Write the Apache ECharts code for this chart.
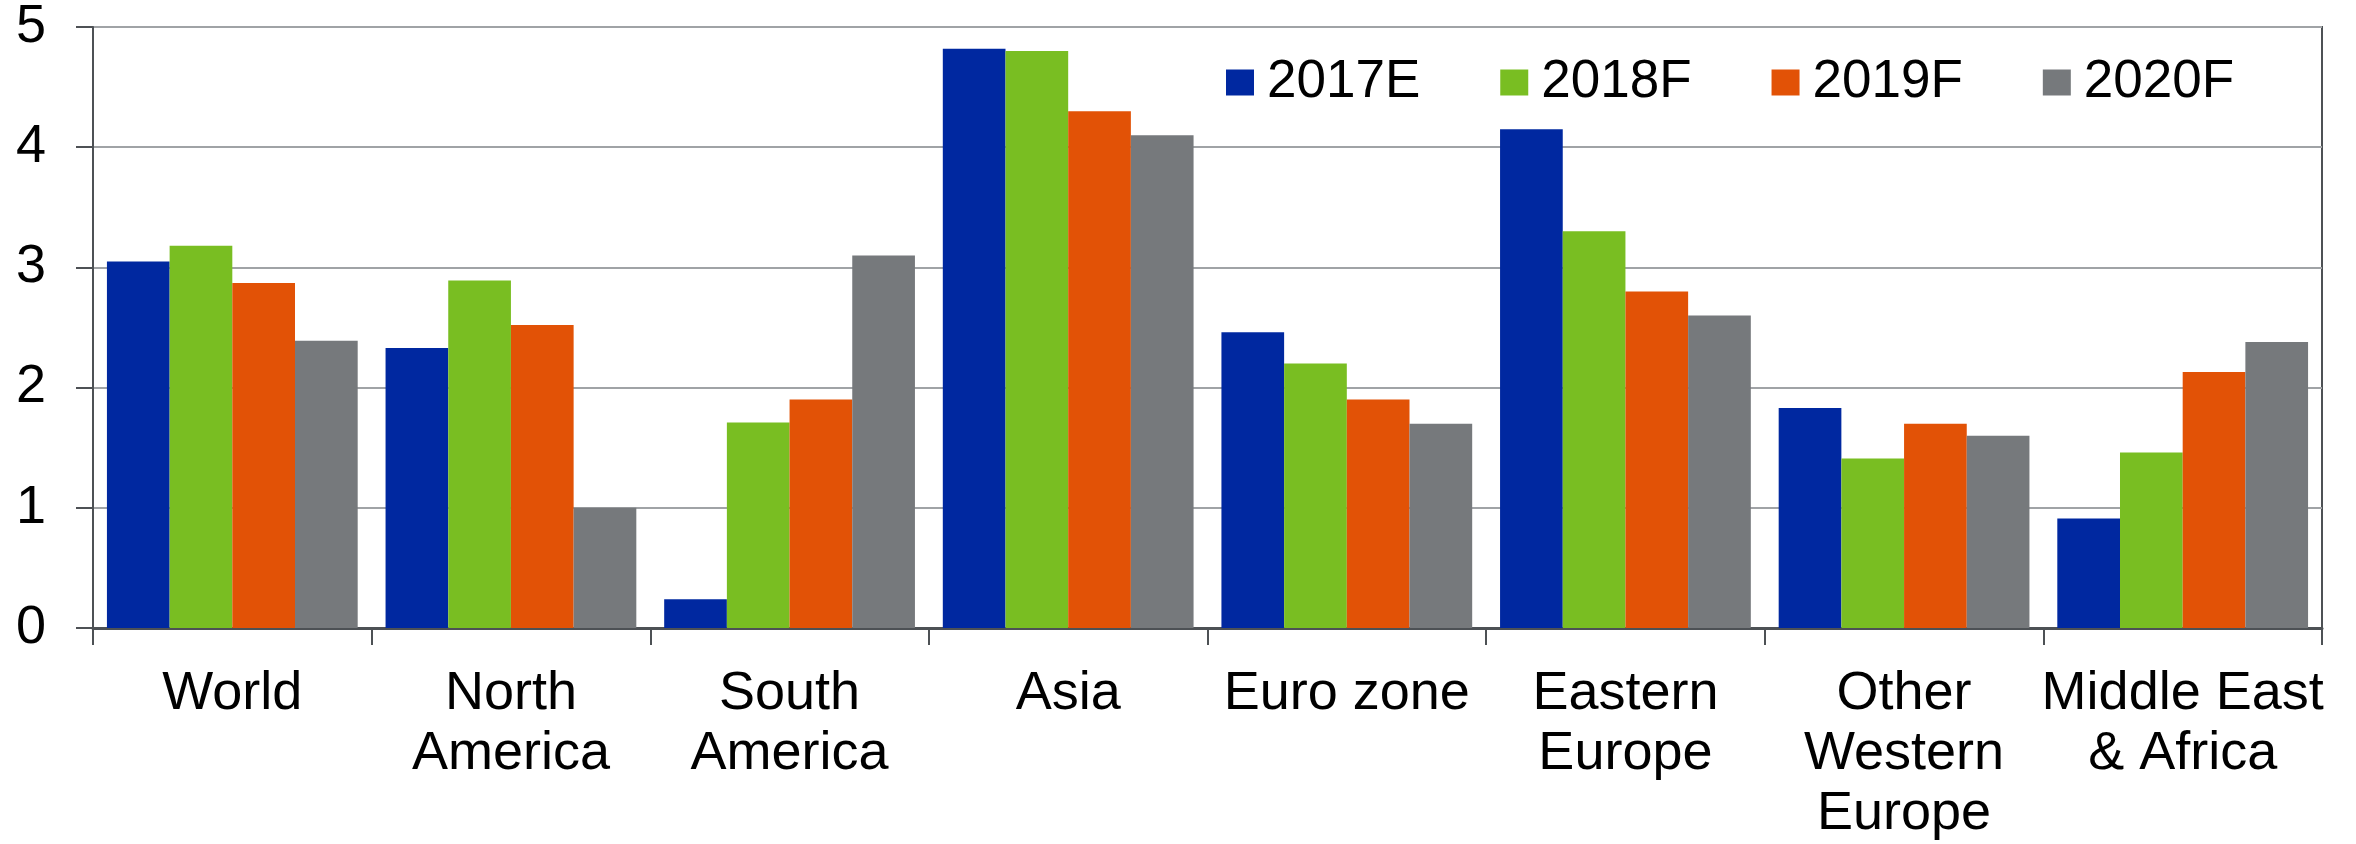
<!DOCTYPE html>
<html>
<head>
<meta charset="utf-8">
<script src="https://cdn.jsdelivr.net/npm/echarts@6/dist/echarts.min.js"></script>
<style>
html,body{margin:0;padding:0;background:#fff;}
#chart{width:2356px;height:844px;}
</style>
</head>
<body>
<div id="chart"></div>
<script>
const categories = ["World", "North\nAmerica", "South\nAmerica", "Asia", "Euro zone", "Eastern\nEurope", "Other\nWestern\nEurope", "Middle East\n& Africa"];
const seriesNames = ["2017E", "2018F", "2019F", "2020F"];
const values2017E = [3.05, 2.33, 0.24, 4.82, 2.46, 4.15, 1.83, 0.91];
const values2018F = [3.18, 2.89, 1.71, 4.80, 2.20, 3.30, 1.41, 1.46];
const values2019F = [2.87, 2.52, 1.90, 4.30, 1.90, 2.80, 1.70, 2.13];
const values2020F = [2.39, 1.00, 3.10, 4.10, 1.70, 2.60, 1.60, 2.38];
const yTicks = { min: 0, max: 5, interval: 1 };

const colors = ['#0028a0', '#79be22', '#e25206', '#76797c'];
const allValues = [values2017E, values2018F, values2019F, values2020F];
const font = 'Arial, "Liberation Sans", sans-serif';

const chart = echarts.init(document.getElementById('chart'), null, { renderer: 'canvas' });
chart.setOption({
  animation: false,
  backgroundColor: '#ffffff',
  color: colors,
  textStyle: { fontFamily: font },
  legend: {
    left: 1221,
    top: 51,
    itemWidth: 28,
    itemHeight: 26,
    itemGap: 80,
    icon: 'rect',
    textStyle: { fontSize: 53, color: '#000', fontFamily: font, lineHeight: 52, padding: [0, 0, 0, 8] },
    data: seriesNames
  },
  grid: {
    left: 93, right: 34, top: 27, bottom: 213,
    show: true, borderColor: '#4d5155', borderWidth: 2, backgroundColor: 'transparent'
  },
  xAxis: {
    type: 'category',
    data: categories,
    axisLine: { show: true, lineStyle: { color: '#4d5155', width: 3 } },
    axisTick: { show: true, length: 17, lineStyle: { color: '#4d5155', width: 2 } },
    axisLabel: { color: '#000', fontSize: 54, fontFamily: font, lineHeight: 60, margin: 36, interval: 0 },
    splitLine: { show: false }
  },
  yAxis: {
    type: 'value',
    min: yTicks.min, max: yTicks.max, interval: yTicks.interval,
    axisLine: { show: true, lineStyle: { color: '#4d5155', width: 2 } },
    axisTick: { show: true, length: 17, lineStyle: { color: '#4d5155', width: 2 } },
    axisLabel: { color: '#000', fontSize: 54, fontFamily: font, margin: 47 },
    splitLine: { show: true, lineStyle: { color: '#a0a3a6', width: 2 } }
  },
  series: seriesNames.map((name, i) => ({
    name: name,
    type: 'bar',
    data: allValues[i],
    barGap: '0%',
    barCategoryGap: '10%',
    itemStyle: { color: colors[i] }
  }))
});
</script>
</body>
</html>
